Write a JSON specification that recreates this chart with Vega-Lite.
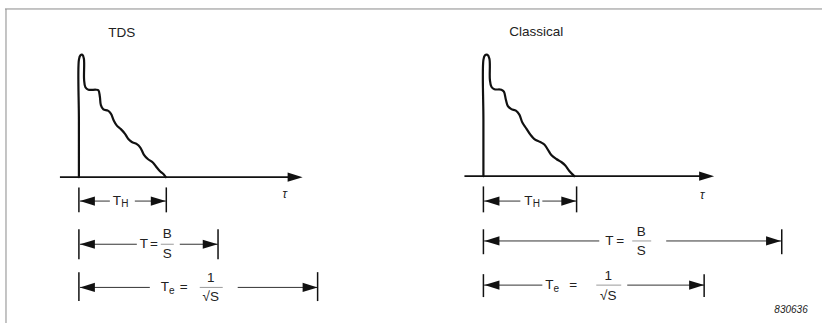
{
  "$schema": "https://vega.github.io/schema/vega-lite/v6.json",
  "width": 823,
  "height": 324,
  "autosize": {"type": "fit", "contains": "padding"},
  "padding": 0,
  "background": "white",
  "config": {"view": {"stroke": null}, "text": {"font": "Liberation Sans"}},
  "datasets": {
    "rules": [
      {"x": 5, "x2": 823, "y": 9, "y2": 9, "kind": "frame"},
      {"x": 6, "x2": 6, "y": 9, "y2": 324, "kind": "frame"},
      {"x": 60, "x2": 296, "y": 177.7, "y2": 177.7, "kind": "axis"},
      {"x": 465, "x2": 708, "y": 176.7, "y2": 176.7, "kind": "axis"},
      {"x": 80, "x2": 110, "y": 201.7, "y2": 201.7, "kind": "dim"},
      {"x": 135, "x2": 166, "y": 201.7, "y2": 201.7, "kind": "dim"},
      {"x": 80, "x2": 137, "y": 245, "y2": 245, "kind": "dim"},
      {"x": 180, "x2": 218, "y": 245, "y2": 245, "kind": "dim"},
      {"x": 80, "x2": 150, "y": 288.3, "y2": 288.3, "kind": "dim"},
      {"x": 238, "x2": 318, "y": 288.3, "y2": 288.3, "kind": "dim"},
      {"x": 484, "x2": 521, "y": 201.7, "y2": 201.7, "kind": "dim"},
      {"x": 543, "x2": 577, "y": 201.7, "y2": 201.7, "kind": "dim"},
      {"x": 484, "x2": 600, "y": 241.7, "y2": 241.7, "kind": "dim"},
      {"x": 667, "x2": 782, "y": 241.7, "y2": 241.7, "kind": "dim"},
      {"x": 484, "x2": 543, "y": 286, "y2": 286, "kind": "dim"},
      {"x": 628, "x2": 705, "y": 286, "y2": 286, "kind": "dim"},
      {"x": 79, "x2": 79, "y": 188, "y2": 213, "kind": "tick"},
      {"x": 166.5, "x2": 166.5, "y": 188, "y2": 213, "kind": "tick"},
      {"x": 79, "x2": 79, "y": 230, "y2": 260, "kind": "tick"},
      {"x": 218.3, "x2": 218.3, "y": 230, "y2": 260, "kind": "tick"},
      {"x": 79, "x2": 79, "y": 273, "y2": 302, "kind": "tick"},
      {"x": 318, "x2": 318, "y": 273, "y2": 302, "kind": "tick"},
      {"x": 484, "x2": 484, "y": 187, "y2": 213, "kind": "tick"},
      {"x": 577.3, "x2": 577.3, "y": 187, "y2": 213, "kind": "tick"},
      {"x": 484, "x2": 484, "y": 230, "y2": 255, "kind": "tick"},
      {"x": 782.7, "x2": 782.7, "y": 230, "y2": 255, "kind": "tick"},
      {"x": 484, "x2": 484, "y": 275, "y2": 298, "kind": "tick"},
      {"x": 705, "x2": 705, "y": 275, "y2": 298, "kind": "tick"},
      {"x": 161, "x2": 174, "y": 245, "y2": 245, "kind": "frac"},
      {"x": 200, "x2": 223, "y": 288.3, "y2": 288.3, "kind": "frac"},
      {"x": 633, "x2": 652, "y": 241.7, "y2": 241.7, "kind": "frac"},
      {"x": 597, "x2": 622, "y": 286, "y2": 286, "kind": "frac"}
    ],
    "curves": [
      {"panel": "TDS", "i": 0, "x": 79, "y": 177.7},
      {"panel": "TDS", "i": 1, "x": 79, "y": 120},
      {"panel": "TDS", "i": 2, "x": 79, "y": 60},
      {"panel": "TDS", "i": 3, "x": 80.5, "y": 55.5},
      {"panel": "TDS", "i": 4, "x": 82.5, "y": 55},
      {"panel": "TDS", "i": 5, "x": 84, "y": 59},
      {"panel": "TDS", "i": 6, "x": 84.2, "y": 80},
      {"panel": "TDS", "i": 7, "x": 85.5, "y": 87.5},
      {"panel": "TDS", "i": 8, "x": 88.5, "y": 90},
      {"panel": "TDS", "i": 9, "x": 96, "y": 90},
      {"panel": "TDS", "i": 10, "x": 98.5, "y": 90.5},
      {"panel": "TDS", "i": 11, "x": 100, "y": 97},
      {"panel": "TDS", "i": 12, "x": 101, "y": 105.5},
      {"panel": "TDS", "i": 13, "x": 103.5, "y": 109.8},
      {"panel": "TDS", "i": 14, "x": 108, "y": 111},
      {"panel": "TDS", "i": 15, "x": 111, "y": 114},
      {"panel": "TDS", "i": 16, "x": 114, "y": 121},
      {"panel": "TDS", "i": 17, "x": 117, "y": 126},
      {"panel": "TDS", "i": 18, "x": 121, "y": 129.5},
      {"panel": "TDS", "i": 19, "x": 125, "y": 134},
      {"panel": "TDS", "i": 20, "x": 128.5, "y": 139.5},
      {"panel": "TDS", "i": 21, "x": 132, "y": 142.5},
      {"panel": "TDS", "i": 22, "x": 137, "y": 144.5},
      {"panel": "TDS", "i": 23, "x": 140.5, "y": 148},
      {"panel": "TDS", "i": 24, "x": 144, "y": 155},
      {"panel": "TDS", "i": 25, "x": 148, "y": 159.5},
      {"panel": "TDS", "i": 26, "x": 153, "y": 163},
      {"panel": "TDS", "i": 27, "x": 157, "y": 168},
      {"panel": "TDS", "i": 28, "x": 160.5, "y": 172},
      {"panel": "TDS", "i": 29, "x": 164, "y": 175},
      {"panel": "TDS", "i": 30, "x": 166, "y": 177.7},
      {"panel": "Classical", "i": 0, "x": 484, "y": 176.7},
      {"panel": "Classical", "i": 1, "x": 484, "y": 120},
      {"panel": "Classical", "i": 2, "x": 484, "y": 60},
      {"panel": "Classical", "i": 3, "x": 485.5, "y": 55.5},
      {"panel": "Classical", "i": 4, "x": 488, "y": 55},
      {"panel": "Classical", "i": 5, "x": 490, "y": 59},
      {"panel": "Classical", "i": 6, "x": 490.5, "y": 80},
      {"panel": "Classical", "i": 7, "x": 492, "y": 87},
      {"panel": "Classical", "i": 8, "x": 495, "y": 89.5},
      {"panel": "Classical", "i": 9, "x": 502, "y": 90},
      {"panel": "Classical", "i": 10, "x": 504.5, "y": 92},
      {"panel": "Classical", "i": 11, "x": 506.5, "y": 100},
      {"panel": "Classical", "i": 12, "x": 508.5, "y": 106.5},
      {"panel": "Classical", "i": 13, "x": 512, "y": 109.5},
      {"panel": "Classical", "i": 14, "x": 516.5, "y": 111},
      {"panel": "Classical", "i": 15, "x": 520, "y": 115},
      {"panel": "Classical", "i": 16, "x": 523, "y": 123},
      {"panel": "Classical", "i": 17, "x": 527, "y": 129},
      {"panel": "Classical", "i": 18, "x": 531, "y": 135},
      {"panel": "Classical", "i": 19, "x": 535, "y": 139.5},
      {"panel": "Classical", "i": 20, "x": 541, "y": 142.5},
      {"panel": "Classical", "i": 21, "x": 545, "y": 145},
      {"panel": "Classical", "i": 22, "x": 548.5, "y": 150},
      {"panel": "Classical", "i": 23, "x": 552, "y": 155.5},
      {"panel": "Classical", "i": 24, "x": 557, "y": 159.5},
      {"panel": "Classical", "i": 25, "x": 562, "y": 162.5},
      {"panel": "Classical", "i": 26, "x": 566, "y": 166},
      {"panel": "Classical", "i": 27, "x": 570, "y": 171.5},
      {"panel": "Classical", "i": 28, "x": 575, "y": 176.7}
    ],
    "heads": [
      {"x": 303, "y": 177.7, "dir": "right"},
      {"x": 715, "y": 176.7, "dir": "right"},
      {"x": 80, "y": 201.7, "dir": "left"},
      {"x": 166, "y": 201.7, "dir": "right"},
      {"x": 80, "y": 245, "dir": "left"},
      {"x": 218, "y": 245, "dir": "right"},
      {"x": 80, "y": 288.3, "dir": "left"},
      {"x": 318, "y": 288.3, "dir": "right"},
      {"x": 485, "y": 201.7, "dir": "left"},
      {"x": 577, "y": 201.7, "dir": "right"},
      {"x": 485, "y": 241.7, "dir": "left"},
      {"x": 782, "y": 241.7, "dir": "right"},
      {"x": 485, "y": 286, "dir": "left"},
      {"x": 705, "y": 286, "dir": "right"}
    ],
    "labels": [
      {"x": 122, "y": 33, "text": "TDS", "kind": "title"},
      {"x": 537, "y": 32, "text": "Classical", "kind": "title"},
      {"x": 117, "y": 201.5, "text": "T", "kind": "main"},
      {"x": 125, "y": 205, "text": "H", "kind": "sub"},
      {"x": 529, "y": 201.5, "text": "T", "kind": "main"},
      {"x": 537, "y": 205, "text": "H", "kind": "sub"},
      {"x": 144, "y": 245, "text": "T", "kind": "main"},
      {"x": 154, "y": 245, "text": "=", "kind": "main"},
      {"x": 167.5, "y": 235, "text": "B", "kind": "main"},
      {"x": 167.5, "y": 255, "text": "S", "kind": "main"},
      {"x": 165, "y": 288, "text": "T", "kind": "main"},
      {"x": 172, "y": 291.5, "text": "e", "kind": "sub"},
      {"x": 184, "y": 288, "text": "=", "kind": "main"},
      {"x": 211, "y": 279, "text": "1", "kind": "main"},
      {"x": 211, "y": 298, "text": "√S", "kind": "main"},
      {"x": 610, "y": 242, "text": "T", "kind": "main"},
      {"x": 621, "y": 242, "text": "=", "kind": "main"},
      {"x": 642, "y": 233, "text": "B", "kind": "main"},
      {"x": 642, "y": 252, "text": "S", "kind": "main"},
      {"x": 550, "y": 286, "text": "T", "kind": "main"},
      {"x": 557, "y": 289.5, "text": "e", "kind": "sub"},
      {"x": 574, "y": 286, "text": "=", "kind": "main"},
      {"x": 609, "y": 277, "text": "1", "kind": "main"},
      {"x": 609, "y": 297, "text": "√S", "kind": "main"},
      {"x": 285, "y": 195, "text": "τ", "kind": "tau"},
      {"x": 703, "y": 196, "text": "τ", "kind": "tau"},
      {"x": 792, "y": 311, "text": "830636", "kind": "code"}
    ]
  },
  "encoding": {
    "x": {"field": "x", "type": "quantitative", "axis": null, "scale": {"domain": [0, 823], "nice": false, "zero": false}},
    "y": {"field": "y", "type": "quantitative", "axis": null, "scale": {"domain": [0, 324], "nice": false, "zero": false, "reverse": true}}
  },
  "layer": [
    {
      "data": {"name": "rules"},
      "transform": [{"filter": "datum.kind === 'frame'"}],
      "mark": {"type": "rule", "color": "#8a8a8a", "strokeWidth": 1},
      "encoding": {"x2": {"field": "x2"}, "y2": {"field": "y2"}}
    },
    {
      "data": {"name": "rules"},
      "transform": [{"filter": "datum.kind === 'axis'"}],
      "mark": {"type": "rule", "color": "#111", "strokeWidth": 1.6},
      "encoding": {"x2": {"field": "x2"}, "y2": {"field": "y2"}}
    },
    {
      "data": {"name": "rules"},
      "transform": [{"filter": "datum.kind === 'dim'"}],
      "mark": {"type": "rule", "color": "#333", "strokeWidth": 1},
      "encoding": {"x2": {"field": "x2"}, "y2": {"field": "y2"}}
    },
    {
      "data": {"name": "rules"},
      "transform": [{"filter": "datum.kind === 'tick'"}],
      "mark": {"type": "rule", "color": "#111", "strokeWidth": 1.5},
      "encoding": {"x2": {"field": "x2"}, "y2": {"field": "y2"}}
    },
    {
      "data": {"name": "rules"},
      "transform": [{"filter": "datum.kind === 'frac'"}],
      "mark": {"type": "rule", "color": "#9a9a9a", "strokeWidth": 1},
      "encoding": {"x2": {"field": "x2"}, "y2": {"field": "y2"}}
    },
    {
      "data": {"name": "curves"},
      "mark": {"type": "line", "color": "#111", "strokeWidth": 2.2, "interpolate": "catmull-rom", "strokeJoin": "round", "strokeCap": "round"},
      "encoding": {"detail": {"field": "panel"}, "order": {"field": "i", "type": "quantitative"}}
    },
    {
      "data": {"name": "heads"},
      "mark": {"type": "point", "filled": true, "size": 64, "color": "#111", "opacity": 1, "strokeWidth": 0},
      "encoding": {
        "shape": {"field": "dir", "type": "nominal", "legend": null, "scale": {"domain": ["right", "left"], "range": ["M0,0L-3.75,-1.15L-3.75,1.15Z", "M0,0L3.75,-1.15L3.75,1.15Z"]}}
      }
    },
    {
      "data": {"name": "labels"},
      "transform": [{"filter": "datum.kind === 'title'"}],
      "mark": {"type": "text", "fontSize": 13.5, "color": "#222", "baseline": "middle", "align": "center"},
      "encoding": {"text": {"field": "text"}}
    },
    {
      "data": {"name": "labels"},
      "transform": [{"filter": "datum.kind === 'main'"}],
      "mark": {"type": "text", "fontSize": 13.5, "color": "#222", "baseline": "middle", "align": "center"},
      "encoding": {"text": {"field": "text"}}
    },
    {
      "data": {"name": "labels"},
      "transform": [{"filter": "datum.kind === 'sub'"}],
      "mark": {"type": "text", "fontSize": 10, "color": "#222", "baseline": "middle", "align": "center"},
      "encoding": {"text": {"field": "text"}}
    },
    {
      "data": {"name": "labels"},
      "transform": [{"filter": "datum.kind === 'tau'"}],
      "mark": {"type": "text", "fontSize": 12, "fontStyle": "italic", "color": "#222", "baseline": "middle", "align": "center"},
      "encoding": {"text": {"field": "text"}}
    },
    {
      "data": {"name": "labels"},
      "transform": [{"filter": "datum.kind === 'code'"}],
      "mark": {"type": "text", "fontSize": 10, "fontStyle": "italic", "color": "#222", "baseline": "middle", "align": "center"},
      "encoding": {"text": {"field": "text"}}
    }
  ]
}
